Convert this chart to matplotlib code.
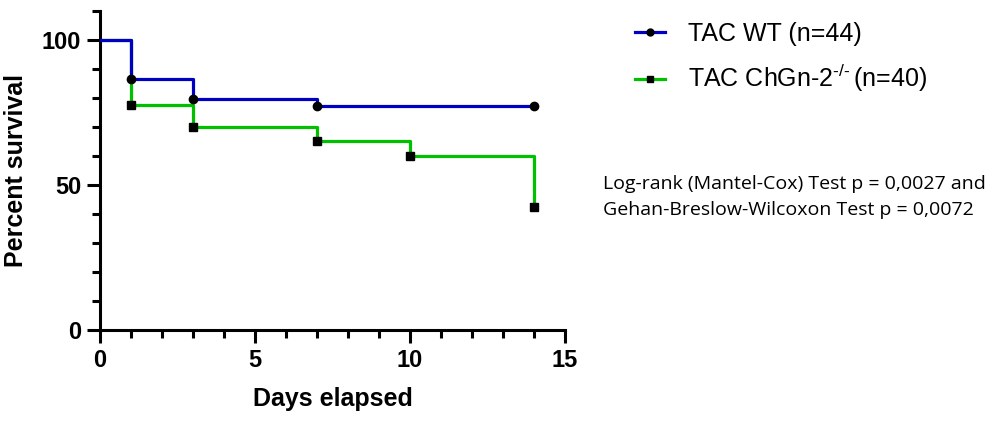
import matplotlib
matplotlib.use("Agg")
import matplotlib.pyplot as plt
from matplotlib.ticker import MultipleLocator, FixedLocator

plt.rcParams['font.family'] = ['Liberation Sans', 'DejaVu Sans']
plt.rcParams['mathtext.fontset'] = 'custom'
plt.rcParams['mathtext.rm'] = 'Liberation Sans'
plt.rcParams['mathtext.it'] = 'Liberation Sans:italic'

# Kaplan-Meier survival data (percent)
wt_days = [0, 1, 3, 7, 14]
wt_surv = [100, 86.4, 79.5, 77.3, 77.3]
ko_days = [0, 1, 3, 7, 10, 14]
ko_surv = [100, 77.5, 70.0, 65.0, 60.0, 42.5]

wt_label = 'TAC WT (n=44)'
ko_label = 'TAC ChGn-2$^{\u2010/\u2010}\\,$(n=40)'
stats_text = ('Log-rank (Mantel-Cox) Test p = 0,0027 and\n'
              'Gehan-Breslow-Wilcoxon Test p = 0,0072')

blue = '#0000c0'
green = '#00c000'

fig = plt.figure(figsize=(9.93, 4.23), dpi=100)
ax = fig.add_axes([0.1007, 0.2199, 0.4683, 0.7541])

ax.step(ko_days, ko_surv, where='post', color=green, lw=2.3, zorder=2)
ax.plot(ko_days[1:], ko_surv[1:], ls='none', marker='s', ms=6, color='black', zorder=4)
ax.step(wt_days, wt_surv, where='post', color=blue, lw=2.3, zorder=3)
ax.plot(wt_days[1:], wt_surv[1:], ls='none', marker='o', ms=6, color='black', zorder=5)

ax.set_xlim(0, 15)
ax.set_ylim(0, 110)
for s in ['top', 'right']:
    ax.spines[s].set_visible(False)
for s in ['left', 'bottom']:
    ax.spines[s].set_linewidth(2.2)
ax.spines['bottom'].set_bounds(0, 15)

ax.xaxis.set_major_locator(FixedLocator([0, 5, 10, 15]))
ax.xaxis.set_minor_locator(MultipleLocator(1))
ax.yaxis.set_major_locator(FixedLocator([0, 50, 100]))
ax.yaxis.set_minor_locator(FixedLocator([10, 20, 30, 40, 60, 70, 80, 90, 110]))
ax.tick_params(which='major', length=9.5, width=2.2, labelsize=17, pad=4)
ax.tick_params(which='minor', length=5.8, width=2.2)
for lab in ax.get_xticklabels() + ax.get_yticklabels():
    lab.set_fontweight('bold')

ax.set_xlabel('Days elapsed', fontsize=18, fontweight='bold', labelpad=11)
ax.set_ylabel('Percent survival', fontsize=18, fontweight='bold', labelpad=10)

h_wt, = ax.plot([], [], color=blue, lw=2.3, marker='o', ms=5, mfc='black', mec='black')
h_ko, = ax.plot([], [], color=green, lw=2.3, marker='s', ms=5, mfc='black', mec='black')
fig.legend([h_wt, h_ko], [wt_label, ko_label], loc='upper left',
           bbox_to_anchor=(0.617, 1.002), frameon=False, fontsize=18,
           handlelength=1.2, handletextpad=0.9, labelspacing=0.66)

fig.text(0.607, 0.534, stats_text, fontsize=14, family=['Open Sans', 'DejaVu Sans'],
         va='center', ha='left', linespacing=1.55)

fig.savefig('out.png', dpi=100)
